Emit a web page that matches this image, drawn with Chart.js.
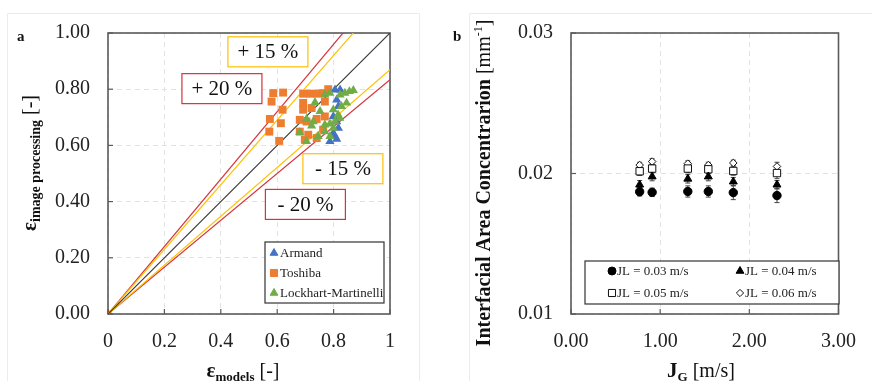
<!DOCTYPE html>
<html><head><meta charset="utf-8">
<script src="https://cdn.jsdelivr.net/npm/chart.js@4.4.1/dist/chart.umd.min.js"></script>
<style>
body{margin:0;background:#fff}
#wrap{position:relative;width:872px;height:381px;overflow:hidden;background:#fff}
canvas{position:absolute;top:0}
</style></head><body>
<div id="wrap"><canvas id="ca" width="436" height="381" style="left:0"></canvas><canvas id="cb" width="436" height="381" style="left:436px"></canvas></div>
<script>
// ---------- Panel a data ----------
const armandX = [0.805,0.823,0.811,0.817,0.799,0.811,0.799,0.805,0.787,0.811,0.817];
const armandY = [0.798,0.798,0.762,0.739,0.703,0.685,0.644,0.632,0.614,0.622,0.662];
const toshibaX = [0.586,0.621,0.580,0.619,0.574,0.613,0.572,0.607,0.692,0.716,0.740,0.763,0.781,0.769,0.692,0.692,0.722,0.680,0.704,0.740,0.769,0.680,0.710,0.740,0.763,0.698];
const toshibaY = [0.786,0.788,0.756,0.727,0.694,0.679,0.649,0.616,0.784,0.784,0.784,0.786,0.800,0.756,0.751,0.727,0.733,0.691,0.685,0.694,0.703,0.649,0.638,0.626,0.656,0.620];
const lockhartX = [0.734,0.752,0.769,0.787,0.823,0.840,0.856,0.870,0.846,0.828,0.799,0.816,0.822,0.805,0.787,0.769,0.769,0.745,0.728,0.704,0.722,0.680,0.704,0.787,0.799];
const lockhartY = [0.753,0.721,0.780,0.786,0.780,0.786,0.792,0.796,0.751,0.739,0.727,0.709,0.697,0.685,0.677,0.673,0.649,0.632,0.685,0.694,0.670,0.646,0.614,0.632,0.662];
const seriesA = ['Armand','Toshiba','Lockhart-Martinelli'];
const lineSlopes = [1, 1.15, 1/1.15, 1.2, 1/1.2];
const xTicksA = ['0','0.2','0.4','0.6','0.8','1'];
const annoLabels = ['+ 15 %','+ 20 %','- 15 %','- 20 %'];
const annoX = [0.567,0.404,0.833,0.700];
const annoY = [0.933,0.802,0.517,0.390];

// ---------- Panel b data ----------
const jg = [0.77,0.91,1.31,1.54,1.82,2.31];
const seriesB = ['JL = 0.03 m/s','JL = 0.04 m/s','JL = 0.05 m/s','JL = 0.06 m/s'];
const iac003 = [0.01870,0.01866,0.01872,0.01872,0.01864,0.01843];
const iac004 = [0.01920,0.01978,0.01962,0.01978,0.01942,0.01920];
const iac005 = [0.02016,0.02035,0.02035,0.02030,0.02018,0.02003];
const iac006 = [0.02060,0.02085,0.02070,0.02060,0.02075,0.02050];
const err003 = [0.0003,0.0003,0.0004,0.0004,0.0005,0.0005];
const err004 = [0.0003,0.0003,0.0003,0.0003,0.0003,0.0003];
const err005 = [0.0003,0.0003,0.0003,0.0003,0.0003,0.0004];
const err006 = [0.0002,0.0002,0.0002,0.0002,0.0002,0.0003];

const SERIF = '"Liberation Serif", "Times New Roman", serif';
const pts = (xs, ys) => xs.map((x,i)=>({x, y: ys[i]}));

function drawRich(ctx, parts, cx, cy, rot){
  ctx.save(); ctx.translate(cx, cy); ctx.rotate(rot||0);
  ctx.textBaseline='alphabetic'; ctx.textAlign='left'; ctx.fillStyle='#111';
  let w=0; parts.forEach(p=>{ctx.font=p.f; p.w=ctx.measureText(p.t).width; w+=p.w;});
  let x=-w/2; parts.forEach(p=>{ctx.font=p.f; ctx.fillText(p.t, x, p.dy||0); x+=p.w;});
  ctx.restore();
}

const framePlugin = {
  id:'frame',
  beforeDatasetsDraw(chart){
    const {ctx, chartArea:a, scales} = chart;
    ctx.save();
    ctx.strokeStyle='#5a5a5a'; ctx.lineWidth=1.2;
    scales.x.ticks.forEach((t,i)=>{ const px=scales.x.getPixelForTick(i); ctx.beginPath(); ctx.moveTo(px,a.bottom); ctx.lineTo(px,a.bottom-5); ctx.stroke(); });
    scales.y.ticks.forEach((t,i)=>{ const py=scales.y.getPixelForTick(i); ctx.beginPath(); ctx.moveTo(a.left,py); ctx.lineTo(a.left+5,py); ctx.stroke(); });
    ctx.lineWidth=1.6;
    ctx.strokeRect(a.left, a.top, a.right-a.left, a.bottom-a.top);
    ctx.restore();
  }
};

const legendPlugin = {
  id:'boxLegend',
  afterDatasetsDraw(chart, args, o){
    const ctx = chart.ctx;
    ctx.save();
    ctx.fillStyle='#fff'; ctx.fillRect(o.box[0],o.box[1],o.box[2],o.box[3]);
    ctx.strokeStyle='#333'; ctx.lineWidth=1.2; ctx.strokeRect(o.box[0],o.box[1],o.box[2],o.box[3]);
    const items = chart.data.datasets.filter(d=>!d.noLegend);
    items.forEach((d,i)=>{
      const [mx,my] = o.pos[i];
      ctx.fillStyle = d.backgroundColor; ctx.strokeStyle = d.borderColor; ctx.lineWidth=1;
      Chart.helpers.drawPoint(ctx, {pointStyle:d.pointStyle, radius:o.r[i], borderWidth:1, rotation:0}, mx, my);
      ctx.fillStyle='#222'; ctx.font = o.font; ctx.textBaseline='middle'; ctx.textAlign='left';
      ctx.fillText(d.label, mx + o.gap, my+0.5);
    });
    ctx.restore();
  }
};

const panelPlugin = {
  id:'panel',
  afterDraw(chart, args, o){
    const ctx = chart.ctx;
    ctx.save();
    ctx.strokeStyle='#ececec'; ctx.lineWidth=1;
    ctx.beginPath(); ctx.moveTo(o.border[0]+0.5, 381); ctx.lineTo(o.border[0]+0.5, o.border[1]+0.5); ctx.lineTo(o.border[2]+0.5, o.border[1]+0.5);
    if (o.border[2] < 436) ctx.lineTo(o.border[2]+0.5, 381);
    ctx.stroke();
    ctx.fillStyle='#111'; ctx.font='bold 15px '+SERIF; ctx.textBaseline='alphabetic'; ctx.textAlign='left';
    ctx.fillText(o.letter, o.letterPos[0], o.letterPos[1]);
    o.titles.forEach(t=>drawRich(ctx, t.parts, t.x, t.y, t.rot));
    ctx.restore();
  }
};

const annoPlugin = {
  id:'anno',
  afterDatasetsDraw(chart, args, o){
    const {ctx, scales} = chart;
    ctx.save();
    annoLabels.forEach((lab,i)=>{
      const cx = scales.x.getPixelForValue(annoX[i]), cy = scales.y.getPixelForValue(annoY[i]);
      const w=80, h=30;
      ctx.fillStyle='#fff'; ctx.fillRect(cx-w/2, cy-h/2, w, h);
      ctx.strokeStyle = o.colors[i]; ctx.lineWidth=1.2; ctx.strokeRect(cx-w/2, cy-h/2, w, h);
      ctx.fillStyle='#111'; ctx.font='21px '+SERIF; ctx.textAlign='center'; ctx.textBaseline='middle';
      ctx.fillText(lab, cx, cy+1);
    });
    ctx.restore();
  }
};

const errPlugin = {
  id:'errbars',
  beforeDatasetsDraw(chart){
    const {ctx, scales} = chart;
    ctx.save(); ctx.strokeStyle='#444'; ctx.lineWidth=1;
    chart.data.datasets.forEach(d=>{
      d.data.forEach((p,i)=>{
        const e = d.errors[i];
        const px = scales.x.getPixelForValue(p.x);
        const y1 = scales.y.getPixelForValue(p.y+e), y2 = scales.y.getPixelForValue(p.y-e);
        ctx.beginPath(); ctx.moveTo(px,y1); ctx.lineTo(px,y2);
        ctx.moveTo(px-2.5,y1); ctx.lineTo(px+2.5,y1); ctx.moveTo(px-2.5,y2); ctx.lineTo(px+2.5,y2);
        ctx.stroke();
      });
    });
    ctx.restore();
  }
};

const gridCommon = {color:'#e2e2e2', lineWidth:1, drawTicks:false};
const tickFont = {family:SERIF, size:20};

// ---------- Chart a ----------
const RED='#d2343c', GOLD='#ffc000';
const lineColors = ['#3a3a3a', GOLD, GOLD, RED, RED];
const lineDatasets = lineSlopes.map((k,i)=>({
  type:'line', label:'k'+i, noLegend:true, data:[{x:0,y:0},{x:1,y:k}],
  borderColor: lineColors[i], borderWidth:1.2, pointRadius: i===3 ? [3,0] : 0,
  pointBackgroundColor:'#b8322f', pointBorderColor:'#b8322f', order: 10+i, fill:false, tension:0
}));

new Chart(document.getElementById('ca'), {
  type:'scatter',
  data:{ datasets:[
    {label:seriesA[0], data:pts(armandX,armandY), pointStyle:'triangle', pointRadius:5.3, backgroundColor:'#4472c4', borderColor:'#4472c4', borderWidth:0, order:2},
    {label:seriesA[1], data:pts(toshibaX,toshibaY), pointStyle:'rect', pointRadius:5.6, backgroundColor:'#ed7d31', borderColor:'#ed7d31', borderWidth:0, order:3},
    {label:seriesA[2], data:pts(lockhartX,lockhartY), pointStyle:'triangle', pointRadius:5.3, backgroundColor:'#70ad47', borderColor:'#70ad47', borderWidth:0, order:1},
    ...lineDatasets
  ]},
  options:{
    responsive:false, animation:false, devicePixelRatio:1,
    layout:{padding:{top:33, right:46, left:0, bottom:0}},
    plugins:{ legend:{display:false}, tooltip:{enabled:false},
      boxLegend:{box:[265,242,119,61], pos:[[274,253],[274,273],[274,293]], r:[4.5,5,4.5], gap:6, font:'13px '+SERIF},
      anno:{colors:[GOLD, RED, GOLD, RED]},
      panel:{border:[7,13,419], letter:'a', letterPos:[17,41], titles:[
        {x:243, y:377, rot:0, parts:[{t:'ε', f:'bold 21px '+SERIF},{t:'models', f:'bold 13px '+SERIF, dy:4},{t:' [-]', f:'20px '+SERIF}]},
        {x:36, y:163, rot:-Math.PI/2, parts:[{t:'ε', f:'bold 21px '+SERIF},{t:'image processing', f:'bold 14px '+SERIF, dy:4},{t:' [-]', f:'20px '+SERIF}]}
      ]}
    },
    scales:{
      x:{type:'linear', min:0, max:1, afterFit(s){s.height=67;},
        ticks:{stepSize:0.2, font:tickFont, color:'#222', padding:16, callback:(v,i)=>xTicksA[i]},
        grid:gridCommon, border:{display:false, dash:[5,4]}},
      y:{type:'linear', min:0, max:1, afterFit(s){s.width=108;},
        ticks:{stepSize:0.2, font:tickFont, color:'#222', padding:18, callback:v=>v.toFixed(2)},
        grid:gridCommon, border:{display:false, dash:[5,4]}}
    }
  },
  plugins:[framePlugin, legendPlugin, annoPlugin, panelPlugin]
});

// ---------- Chart b ----------
new Chart(document.getElementById('cb'), {
  type:'scatter',
  data:{ datasets:[
    {label:seriesB[0], data:pts(jg,iac003), errors:err003, pointStyle:'circle', pointRadius:4.2, backgroundColor:'#000', borderColor:'#000', borderWidth:1},
    {label:seriesB[1], data:pts(jg,iac004), errors:err004, pointStyle:'triangle', pointRadius:4.6, backgroundColor:'#000', borderColor:'#000', borderWidth:1},
    {label:seriesB[2], data:pts(jg,iac005), errors:err005, pointStyle:'rect', pointRadius:5.2, backgroundColor:'#fff', borderColor:'#111', borderWidth:1},
    {label:seriesB[3], data:pts(jg,iac006), errors:err006, pointStyle:'rectRot', pointRadius:3.8, backgroundColor:'#fff', borderColor:'#111', borderWidth:1}
  ]},
  options:{
    responsive:false, animation:false, devicePixelRatio:1,
    layout:{padding:{top:33, right:20, left:0, bottom:0}},
    plugins:{ legend:{display:false}, tooltip:{enabled:false},
      boxLegend:{box:[149,261,254,43], pos:[[176,271],[304,271],[176,293],[304,293]], r:[4,4.5,5,3.6], gap:5, font:'13px '+SERIF},
      panel:{border:[33,13,440], letter:'b', letterPos:[17,41], titles:[
        {x:265, y:377, rot:0, parts:[{t:'J', f:'bold 21px '+SERIF},{t:'G', f:'bold 13px '+SERIF, dy:4},{t:' [m/s]', f:'20px '+SERIF}]},
        {x:54, y:183, rot:-Math.PI/2, parts:[{t:'Interfacial Area Concentrarion ', f:'bold 20px '+SERIF},{t:'[mm', f:'20px '+SERIF},{t:'-1', f:'12px '+SERIF, dy:-8},{t:']', f:'20px '+SERIF}]}
      ]}
    },
    scales:{
      x:{type:'linear', min:0, max:3, afterFit(s){s.height=67;},
        ticks:{stepSize:1, font:tickFont, color:'#222', padding:16, callback:v=>v.toFixed(2)},
        grid:gridCommon, border:{display:false, dash:[5,4]}},
      y:{type:'linear', min:0.01, max:0.03, afterFit(s){s.width=135;},
        ticks:{stepSize:0.01, font:tickFont, color:'#222', padding:18, callback:v=>v.toFixed(2)},
        grid:gridCommon, border:{display:false, dash:[5,4]}}
    }
  },
  plugins:[framePlugin, errPlugin, legendPlugin, panelPlugin]
});
</script>
</body></html>
